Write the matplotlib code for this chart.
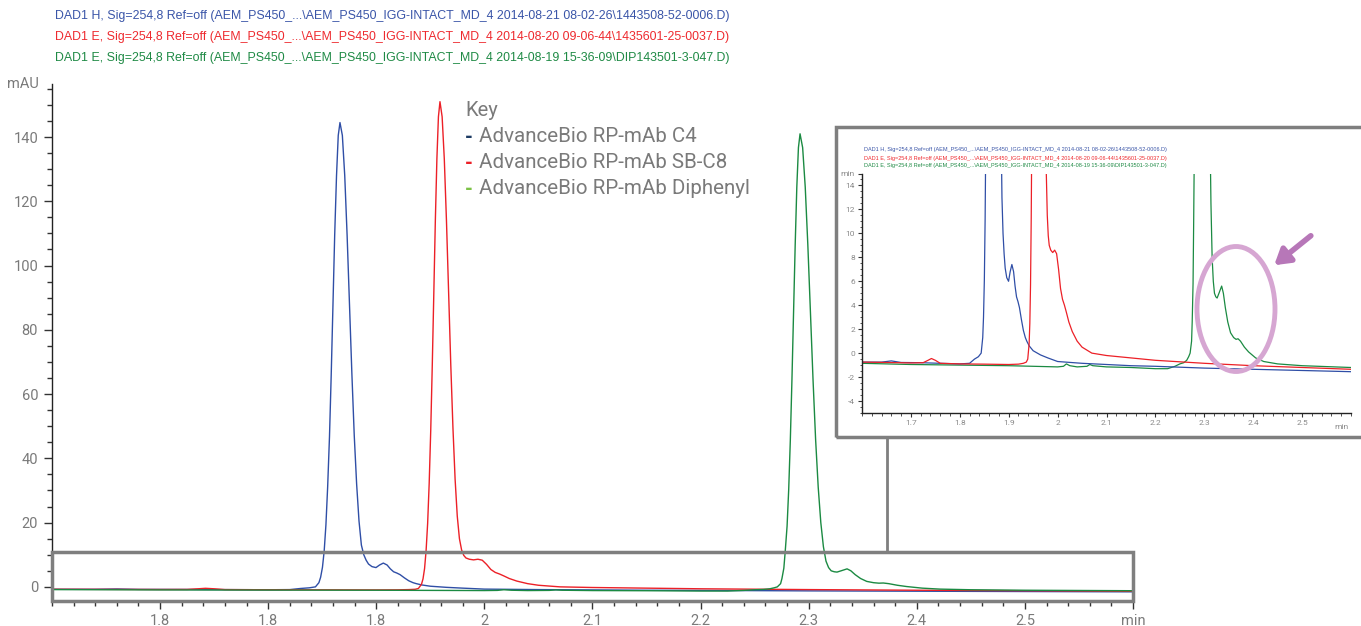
import matplotlib
matplotlib.use("Agg")
import matplotlib.pyplot as plt
from matplotlib.patches import Rectangle, Ellipse, FancyArrowPatch
from matplotlib.ticker import MultipleLocator

# ---------------- data ----------------
header_lines = [
    r"DAD1 H, Sig=254,8 Ref=off (AEM_PS450_...\AEM_PS450_IGG-INTACT_MD_4 2014-08-21 08-02-26\1443508-52-0006.D)",
    r"DAD1 E, Sig=254,8 Ref=off (AEM_PS450_...\AEM_PS450_IGG-INTACT_MD_4 2014-08-20 09-06-44\1435601-25-0037.D)",
    r"DAD1 E, Sig=254,8 Ref=off (AEM_PS450_...\AEM_PS450_IGG-INTACT_MD_4 2014-08-19 15-36-09\DIP143501-3-047.D)",
]
legend_labels = ["AdvanceBio RP-mAb C4", "AdvanceBio RP-mAb SB-C8", "AdvanceBio RP-mAb Diphenyl"]

t_blue = [1.600, 1.640, 1.660, 1.680, 1.720, 1.760, 1.800, 1.820, 1.830, 1.838,
          1.8437, 1.8469, 1.8485, 1.8502, 1.8518, 1.8534, 1.8550, 1.8567, 1.8583, 1.8599,
          1.8615, 1.8632, 1.8648, 1.8664,
          1.8686, 1.8708, 1.8730, 1.8752, 1.8774, 1.8796, 1.8818, 1.8840, 1.8862, 1.8884,
          1.8906, 1.8928,
          1.8960, 1.8997, 1.9030, 1.9065, 1.9100, 1.9130, 1.9160, 1.9190, 1.9220, 1.9260,
          1.9300, 1.9340, 1.9370, 1.9420, 1.9500, 1.9650, 1.9800, 2.0000, 2.0500, 2.1000,
          2.1500, 2.2000, 2.3000, 2.4000, 2.5000, 2.6000]
v_blue = [-0.75, -0.75, -0.65, -0.78, -0.8, -0.85, -0.9, -0.85, -0.5, -0.3,
          0.0, 1.3, 3.0, 6.1, 11.2, 19.3, 31.1, 46.8, 66.1, 87.6,
          109.4, 128, 140.5, 144.5,
          140.5, 128, 109.4, 87.9, 66.4, 47.1, 32, 20.5, 13, 10,
          8.3, 7.1,
          6.3, 6.0, 6.8, 7.4, 6.8, 5.6, 4.7, 4.3, 3.8, 2.8,
          1.9, 1.3, 1.0, 0.6, 0.2, -0.15, -0.4, -0.7, -0.85, -0.95,
          -1.05, -1.1, -1.25, -1.35, -1.45, -1.55]

t_red = [1.600, 1.650, 1.700, 1.725, 1.735, 1.742, 1.750, 1.760, 1.800, 1.850, 1.900, 1.920,
         1.930, 1.9360,
         1.93895, 1.94180, 1.94322, 1.94465, 1.94607, 1.94750, 1.94892, 1.95035, 1.95177,
         1.95320, 1.95462, 1.95605, 1.95747, 1.95890,
         1.9609, 1.9629, 1.9649, 1.9669, 1.9689, 1.9709, 1.9729, 1.9749, 1.9769, 1.9789,
         1.9809, 1.9829,
         1.9860, 1.9900, 1.9940, 1.9980, 2.0020, 2.0060, 2.0100, 2.0140, 2.0180, 2.0230,
         2.0300, 2.0400, 2.0500, 2.0700, 2.1000, 2.1500, 2.2000, 2.3000, 2.4000, 2.5000, 2.6000]
v_red = [-0.75, -0.78, -0.82, -0.8, -0.6, -0.45, -0.6, -0.85, -0.9, -0.92, -0.95, -0.92,
         -0.85, -0.75,
         -0.5, 0.8, 2.5, 5.7, 11.3, 19.8, 32.2, 48.6, 68.8,
         91.3, 114, 133.2, 146.3, 151,
         146.3, 133.2, 114, 91.6, 69.1, 49.5, 33.5, 22, 15, 11.5,
         9.8, 9.0,
         8.6, 8.4, 8.6, 8.3, 7.0, 5.4, 4.5, 4.0, 3.4, 2.6,
         1.8, 1.0, 0.5, 0.0, -0.2, -0.4, -0.6, -0.85, -1.05, -1.2, -1.35]

t_green = [1.600, 1.700, 1.800, 1.900, 2.000, 2.012, 2.018, 2.025, 2.040, 2.060, 2.066, 2.072,
           2.100, 2.150, 2.200, 2.225, 2.240, 2.250, 2.258, 2.264, 2.268,
           2.2710, 2.2740, 2.27525, 2.2770, 2.27825, 2.2800, 2.2815, 2.2830, 2.2845, 2.2860,
           2.2875, 2.2890, 2.2905, 2.2920,
           2.2944, 2.2968, 2.2992, 2.3016, 2.3040, 2.3064, 2.3088, 2.3112, 2.3136, 2.3160,
           2.3184, 2.3208,
           2.3236, 2.3262, 2.3300, 2.3355, 2.3390, 2.3430, 2.3480, 2.3537, 2.3600, 2.3650,
           2.3690, 2.3740, 2.3820, 2.3906, 2.4050, 2.4215, 2.4500, 2.5000, 2.6000]
v_green = [-0.85, -0.95, -1.0, -1.05, -1.15, -1.1, -0.9, -1.05, -1.15, -1.1, -0.95, -1.05,
           -1.15, -1.2, -1.3, -1.3, -1.1, -0.9, -0.8, -0.6, -0.3,
           0.0, 1.0, 2.6, 5.8, 10.9, 18.9, 30.3, 45.6, 64.5, 85.5,
           106.4, 124.4, 136.7, 141,
           136.7, 124.4, 106.4, 85.5, 64.5, 45.8, 31, 20, 12.5, 8.0,
           6.0, 5.0,
           4.7, 4.6, 5.0, 5.6, 5.0, 3.8, 2.6, 1.7, 1.3, 1.15,
           1.2, 1.0, 0.5, 0.1, -0.4, -0.7, -0.9, -1.05, -1.2]

main_xticks = [1.7, 1.8, 1.9, 2.0, 2.1, 2.2, 2.3, 2.4, 2.5, 2.6]
main_xticklabels = ["1.8", "1.8", "1.8", "2", "2.1", "2.2", "2.3", "2.4", "2.5", "min"]
main_yticks = [0, 20, 40, 60, 80, 100, 120, 140]
inset_xticks = [1.7, 1.8, 1.9, 2.0, 2.1, 2.2, 2.3, 2.4, 2.5]
inset_xticklabels = ["1.7", "1.8", "1.9", "2", "2.1", "2.2", "2.3", "2.4", "2.5"]
inset_yticks = [-4, -2, 0, 2, 4, 6, 8, 10, 12, 14, 15]
inset_yticklabels = ["-4", "-2", "0", "2", "4", "6", "8", "10", "12", "14", "min"]

# ---------------- style ----------------
C_BLUE = "#2f4ea6"
C_RED = "#ec2027"
C_GREEN = "#1b8a42"
HDR_COLORS = ["#3a55a8", "#ee2a2f", "#1f8a45"]
KEY_DASH = ["#1d3b63", "#ec2027", "#7cc246"]
GRAY_TXT = "#7a7a7a"
BOX_GRAY = "#7f7f7f"
W, H = 1361, 626
HDR_FONT = ['Liberation Sans', 'DejaVu Sans']

plt.rcParams['font.family'] = ['Roboto', 'DejaVu Sans']

def fx(px):
    return px / W

def fy(py):
    return 1 - py / H

fig = plt.figure(figsize=(W / 100, H / 100), dpi=100)
fig.patch.set_facecolor("white")

# ---------------- main axes ----------------
ax = fig.add_axes([fx(52), fy(601), fx(1133) - fx(52), fy(84) - fy(601)])
for t, v, c in [(t_blue, v_blue, C_BLUE), (t_red, v_red, C_RED), (t_green, v_green, C_GREEN)]:
    ax.plot(t, v, color=c, lw=1.0)
ax.set_xlim(1.6, 2.6)
ax.set_ylim(-4.4, 156.5)
for s in ["top", "right"]:
    ax.spines[s].set_visible(False)
for s in ["left", "bottom"]:
    ax.spines[s].set_color("#222222")
    ax.spines[s].set_linewidth(1.0)
ax.set_xticks(main_xticks)
ax.set_xticklabels(main_xticklabels)
ax.xaxis.set_minor_locator(MultipleLocator(0.02))
ax.set_yticks(main_yticks)
ax.yaxis.set_minor_locator(MultipleLocator(5))
ax.tick_params(axis="both", which="major", length=6, width=1, color="#333333",
               labelsize=10.5, labelcolor=GRAY_TXT)
ax.tick_params(axis="both", which="minor", length=3.5, width=1, color="#333333")
ax.tick_params(axis="x", pad=3.5)
ax.tick_params(axis="y", pad=4)
ax.text(-0.012, 1.0, "mAU", transform=ax.transAxes, ha="right", va="center",
        fontsize=10.5, color=GRAY_TXT)

# zoom box on main axes
fig.patches.append(Rectangle((fx(52), fy(601)), fx(1133) - fx(52), fy(552) - fy(601),
                             transform=fig.transFigure, fill=False, edgecolor=BOX_GRAY,
                             lw=2.5, zorder=5))
# connector line
fig.add_artist(plt.Line2D([fx(887), fx(887)], [fy(552), fy(437)], transform=fig.transFigure,
                          color=BOX_GRAY, lw=2.0))
# inset frame
fig.patches.append(Rectangle((fx(836), fy(437)), fx(1366) - fx(836), fy(127) - fy(437),
                             transform=fig.transFigure, fill=False, edgecolor=BOX_GRAY,
                             lw=2.5, zorder=5))

# header text
for i, (line, col) in enumerate(zip(header_lines, HDR_COLORS)):
    fig.text(fx(55), fy(16 + 21 * i), line, color=col, ha="left", va="center",
             fontsize=8.9, family=HDR_FONT)

# legend / key
fig.text(fx(465), fy(110), "Key", color=GRAY_TXT, ha="left", va="center", fontsize=14.5)
for i, (lab, dc) in enumerate(zip(legend_labels, KEY_DASH)):
    y = fy(137 + 26 * i)
    fig.text(fx(465), y, "-", color=dc, ha="left", va="center", fontsize=14.5, fontweight="bold")
    fig.text(fx(479), y, lab, color=GRAY_TXT, ha="left", va="center", fontsize=14.8)

# ---------------- inset axes ----------------
ax2 = fig.add_axes([fx(862), fy(413), fx(1351) - fx(862), fy(173.5) - fy(413)])
for t, v, c in [(t_green, v_green, C_GREEN), (t_blue, v_blue, C_BLUE), (t_red, v_red, C_RED)]:
    ax2.plot(t, v, color=c, lw=0.9)
ax2.set_xlim(1.6, 2.6)
ax2.set_ylim(-5, 15)
for s in ["top", "right"]:
    ax2.spines[s].set_visible(False)
for s in ["left", "bottom"]:
    ax2.spines[s].set_color("#222222")
    ax2.spines[s].set_linewidth(1.0)
ax2.set_xticks(inset_xticks)
ax2.set_xticklabels(inset_xticklabels)
ax2.xaxis.set_minor_locator(MultipleLocator(0.02))
ax2.set_yticks(inset_yticks)
ax2.set_yticklabels(inset_yticklabels)
ax2.yaxis.set_minor_locator(MultipleLocator(0.5))
ax2.tick_params(axis="both", which="major", length=3, width=0.8, color="#333333",
                labelsize=6, labelcolor="#8a8a8a", pad=2)
ax2.tick_params(axis="both", which="minor", length=1.8, width=0.6, color="#333333")
ax2.text(2.58, -5.9, "min", ha="center", va="top", fontsize=6, color="#8a8a8a")

for i, (line, col) in enumerate(zip(header_lines, HDR_COLORS)):
    fig.text(fx(864), fy(150 + 8 * i), line, color=col, ha="left", va="center",
             fontsize=4.0, family=HDR_FONT)

# highlight ellipse and arrow
fig.patches.append(Ellipse((fx(1236), fy(309)), fx(78), 125 / H, transform=fig.transFigure,
                           fill=False, edgecolor="#d6a6d2", lw=3.5, zorder=6))
fig.patches.append(FancyArrowPatch((fx(1313), fy(234)), (fx(1272), fy(267)),
                                   transform=fig.transFigure,
                                   arrowstyle="-|>,head_length=9,head_width=5.5",
                                   color="#b777b8", lw=4, zorder=6))

fig.savefig("out.png", dpi=100)
